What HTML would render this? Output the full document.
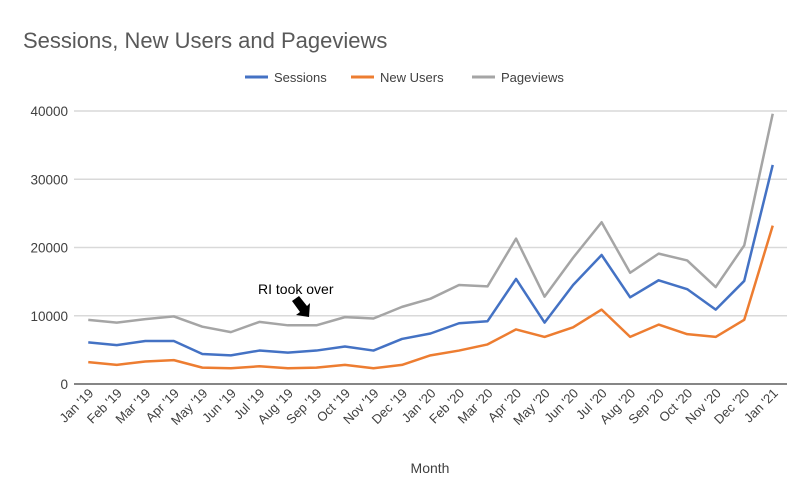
<!DOCTYPE html>
<html><head><meta charset="utf-8"><style>
body{margin:0;background:#fff;font-family:"Liberation Sans",sans-serif}
</style></head><body>
<svg id="chart" width="811" height="500" xmlns="http://www.w3.org/2000/svg" style="display:block">
<rect width="811" height="500" fill="#fff"/>
<text x="23" y="48" font-size="22" fill="#595959">Sessions, New Users and Pageviews</text>
<g font-size="13" fill="#404040">
<g><line x1="245" y1="77" x2="268" y2="77" stroke="#4472c4" stroke-width="3"/><text x="274" y="82">Sessions</text></g>
<g><line x1="351" y1="77" x2="374" y2="77" stroke="#ed7d31" stroke-width="3"/><text x="380" y="82">New Users</text></g>
<g><line x1="472" y1="77" x2="495" y2="77" stroke="#a5a5a5" stroke-width="3"/><text x="501" y="82">Pageviews</text></g>
</g>
<g id="grid"></g><g id="yticks"></g><g id="xticks"></g><g id="series"></g>
<text x="430" y="473" font-size="14" fill="#404040" text-anchor="middle">Month</text>
<g>
<text x="258" y="294" font-size="14" fill="#000">RI took over</text>
<polygon points="292,301 299,296 307,306 310,303 309,317 296,315 300,312" fill="#000"/>
</g>
</svg>
<script>
const categories=["Jan '19","Feb '19","Mar '19","Apr '19","May '19","Jun '19","Jul '19","Aug '19","Sep '19","Oct '19","Nov '19","Dec '19","Jan '20","Feb '20","Mar '20","Apr '20","May '20","Jun '20","Jul '20","Aug '20","Sep '20","Oct '20","Nov '20","Dec '20","Jan '21"];
const sessions=[6100,5700,6300,6300,4400,4200,4900,4600,4900,5500,4900,6600,7400,8900,9200,15400,9000,14500,18900,12700,15200,13900,10900,15100,32100];
const newUsers=[3200,2800,3300,3500,2400,2300,2600,2300,2400,2800,2300,2800,4200,4900,5800,8000,6900,8300,10900,6900,8700,7300,6900,9400,23200];
const pageviews=[9400,9000,9500,9900,8400,7600,9100,8600,8600,9800,9600,11300,12500,14500,14300,21300,12800,18500,23700,16300,19100,18100,14200,20300,39600];
const yTicks=[0,10000,20000,30000,40000];
const NS="http://www.w3.org/2000/svg";
const L=74,R=787,T=111,B=384,YMAX=40000;
const band=(R-L)/categories.length;
const x=i=>L+band*(i+0.5);
const y=v=>B-(v/YMAX)*(B-T);
function mk(tag,attrs,parent){const e=document.createElementNS(NS,tag);for(const k in attrs)e.setAttribute(k,attrs[k]);parent.appendChild(e);return e;}
const grid=document.getElementById('grid'),yt=document.getElementById('yticks'),xt=document.getElementById('xticks'),ser=document.getElementById('series');
yTicks.forEach(v=>{
 const g=mk('line',{x1:L,x2:R,y1:y(v),y2:y(v),stroke:v===0?'#868686':'#d9d9d9','stroke-width':v===0?2:1.5},grid);
 
 
 const t=mk('text',{x:68,y:y(v)+5,'font-size':13.5,fill:'#404040','text-anchor':'end'},yt);
 t.textContent=v;
 
 
});
categories.forEach((c,i)=>{
 const t=mk('text',{x:x(i)+6,y:394,'font-size':13,fill:'#404040','text-anchor':'end',transform:`rotate(-45 ${x(i)+6} 394)`},xt);
 t.textContent=c;
 
 
});
[[pageviews,'#a5a5a5','series-pageviews'],[sessions,'#4472c4','series-sessions'],[newUsers,'#ed7d31','series-new-users']].forEach(([d,col,n])=>{
 const p=mk('polyline',{points:d.map((v,i)=>x(i)+','+y(v)).join(' '),fill:'none',stroke:col,'stroke-width':2.5,'stroke-linejoin':'round'},ser);
 
 
});
</script>
</body></html>
